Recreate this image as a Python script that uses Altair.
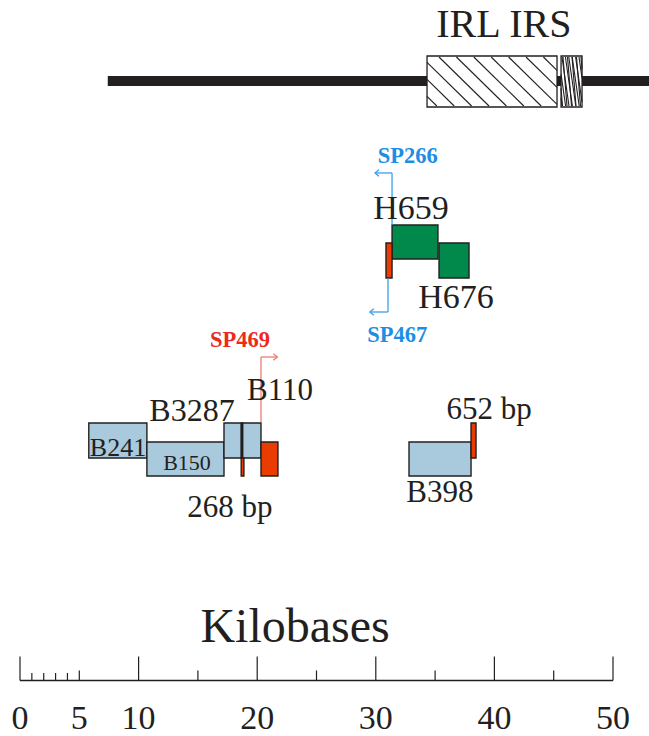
import altair as alt
import pandas as pd
import numpy as np

box_names = ["B241", "B150", "B3287", "B3287/B110 junction", "B110", "268 bp", "B110 red",
             "B398", "652 bp", "H659", "H676", "H red"]
box_start = [5.80, 10.70, 17.20, 18.66, 18.78, 18.65, 20.32, 32.80, 38.03, 31.37, 35.33, 30.86]
box_end   = [10.70, 17.20, 18.66, 18.78, 20.32, 18.88, 21.75, 38.03, 38.45, 35.24, 37.86, 31.37]
box_row   = ["A", "B", "A", "A", "A", "C", "B", "B", "A", "H1", "H2", "H2"]
box_kind  = ["blue", "blue", "blue", "dark", "blue", "red", "red", "blue", "red", "green", "green", "red"]

genome_start, genome_end = 7.4, 53.5
irl_start, irl_end = 34.32, 45.28
irs_start, irs_end = 45.62, 47.39

major_ticks = [0, 10, 20, 30, 40, 50]
mid_ticks = [5, 15, 25, 35, 45]
minor_ticks = [1, 2, 3, 4]
tick_labels = [0, 5, 10, 20, 30, 40, 50]

primer_names = ["SP469", "SP266", "SP467"]
primer_stem = [20.32, 31.37, 31.03]
primer_tip = [21.70, 29.93, 29.50]

label_text = ["IRL IRS", "Kilobases", "B3287", "B110", "B241", "B150", "268 bp",
              "H659", "H676", "652 bp", "B398", "SP266", "SP467", "SP469"]
label_x = [40.80, 23.19, 14.50, 21.92, 8.26, 14.08, 17.70,
           32.97, 36.76, 39.55, 35.41, 32.70, 31.80, 18.55]

# ---------------- layout (vertical positions in page pixels, styles) ----------------
W, H = 649, 736
X0_PX, PX_PER_KB = 20.0, 11.86
dom = [-X0_PX / PX_PER_KB, (W - X0_PX) / PX_PER_KB]

rows = {"A": (423, 458), "B": (442, 476), "C": (458, 476), "H1": (225, 259), "H2": (243, 278)}
fills = {"blue": "#a9c9dc", "red": "#e83c00", "green": "#00894b", "dark": "#231f20"}
INK = "#231f20"
FONT = "Liberation Serif"

genome_y = 81
ir_top, ir_bot = 56, 107
ruler_y = 680.5
tick_top = {"major": 656.5, "mid": 670.5, "minor": 673.0}
tick_label_base = 729

primer_rows = [(422, 357), (225, 173), (278, 312)]
primer_col = ["#f07a78", "#3aa0ea", "#3aa0ea"]
primer_text_col = {"SP469": "#ec2a1c", "SP266": "#1c8ee6", "SP467": "#1c8ee6"}

label_base = [37, 642, 421, 400, 456, 470, 517, 219, 308, 419, 502, 163, 342, 347]
label_size = [40, 48, 32, 31, 26, 22, 31, 34, 34, 31, 31, 22.5, 22.5, 22.5]

xs = alt.Scale(domain=dom, nice=False, zero=False)
ys = alt.Scale(domain=[0, H], reverse=True, nice=False, zero=False)

def X(f="x"):
    return alt.X(f"{f}:Q", scale=xs, axis=None)

def Y(f="y"):
    return alt.Y(f"{f}:Q", scale=ys, axis=None)

layers = []

# genome backbone
gdf = pd.DataFrame({"x": [genome_start], "x2": [genome_end], "y": [genome_y]})
layers.append(alt.Chart(gdf).mark_rule(color=INK, strokeWidth=10, strokeCap="butt").encode(
    x=X(), x2="x2:Q", y=Y()))

# IR boxes (white, outlined)
irdf = pd.DataFrame({"x": [irl_start, irs_start], "x2": [irl_end, irs_end],
                     "y": [ir_top, ir_top], "y2": [ir_bot, ir_bot]})
layers.append(alt.Chart(irdf).mark_rect(fill="white", stroke=INK, strokeWidth=1.3).encode(
    x=X(), x2="x2:Q", y=Y(), y2="y2:Q"))

# hatching, clipped to each box (pixel geometry converted to kb)
def hatch(xl_kb, xr_kb, top, bot, run_px, step_px, first_px):
    xl = X0_PX + xl_kb * PX_PER_KB
    xr = X0_PX + xr_kb * PX_PER_KB
    h = bot - top
    segs = []
    start = first_px
    while start - step_px > xl - abs(run_px) - step_px:
        start -= step_px
    s = start
    while s < xr + abs(run_px):
        ts = sorted([(xl - s) / run_px, (xr - s) / run_px])
        t0 = max(0.0, ts[0])
        t1 = min(1.0, ts[1])
        if t1 > t0:
            segs.append(((s + t0 * run_px - X0_PX) / PX_PER_KB, top + t0 * h,
                         (s + t1 * run_px - X0_PX) / PX_PER_KB, top + t1 * h))
        s += step_px
    return segs

hs = hatch(irl_start, irl_end, ir_top + 1, ir_bot - 1, 50, 17.4, 439)
hs += hatch(irs_start, irs_end, ir_top + 1, ir_bot - 1, 7, 3.4, 562)
hs += hatch(irs_start, irs_end, ir_top + 1, ir_bot - 1, 4, 4.5, 563)
hdf = pd.DataFrame(hs, columns=["x", "y", "x2", "y2"])
layers.append(alt.Chart(hdf).mark_rule(color=INK, strokeWidth=1.1).encode(
    x=X(), x2="x2:Q", y=Y(), y2="y2:Q"))

# feature boxes
bdf = pd.DataFrame({"name": box_names, "x": box_start, "x2": box_end,
                    "y": [rows[r][0] for r in box_row], "y2": [rows[r][1] for r in box_row],
                    "kind": box_kind})
layers.append(alt.Chart(bdf).mark_rect(stroke=INK, strokeWidth=1.4).encode(
    x=X(), x2="x2:Q", y=Y(), y2="y2:Q",
    fill=alt.Fill("kind:N", scale=alt.Scale(domain=list(fills), range=list(fills.values())),
                  legend=None)))

# primer arrows
stems, arms, heads = [], [], []
for n, sx, tx, (ya, yb), c in zip(primer_names, primer_stem, primer_tip, primer_rows, primer_col):
    stems.append({"x": sx, "y": ya, "y2": yb, "c": c})
    arms.append({"x": sx, "x2": tx, "y": yb, "c": c})
    heads.append({"x": tx, "y": yb, "c": c, "dir": "right" if tx > sx else "left"})
cscale = alt.Scale(domain=sorted(set(primer_col)), range=sorted(set(primer_col)))
layers.append(alt.Chart(pd.DataFrame(stems)).mark_rule(strokeWidth=1.3).encode(
    x=X(), y=Y(), y2="y2:Q", color=alt.Color("c:N", scale=cscale, legend=None)))
layers.append(alt.Chart(pd.DataFrame(arms)).mark_rule(strokeWidth=1.3).encode(
    x=X(), x2="x2:Q", y=Y(), color=alt.Color("c:N", scale=cscale, legend=None)))
hd = pd.DataFrame(heads)
for d, path in [("right", "M-1,-0.8L0,0L-1,0.8"), ("left", "M1,-0.8L0,0L1,0.8")]:
    layers.append(alt.Chart(hd[hd["dir"] == d]).mark_point(
        shape=path, filled=False, size=64, strokeWidth=1.3, opacity=1).encode(
        x=X(), y=Y(), color=alt.Color("c:N", scale=cscale, legend=None)))

# ruler
layers.append(alt.Chart(pd.DataFrame({"x": [0], "x2": [50], "y": [ruler_y]})).mark_rule(
    color=INK, strokeWidth=1.3).encode(x=X(), x2="x2:Q", y=Y()))
tdf = pd.DataFrame({"x": major_ticks + mid_ticks + minor_ticks,
                    "y": [tick_top["major"]] * len(major_ticks) + [tick_top["mid"]] * len(mid_ticks)
                    + [tick_top["minor"]] * len(minor_ticks)})
tdf["y2"] = ruler_y
layers.append(alt.Chart(tdf).mark_rule(color=INK, strokeWidth=1.2).encode(
    x=X(), y=Y(), y2="y2:Q"))
tl = pd.DataFrame({"x": tick_labels, "t": [str(v) for v in tick_labels], "y": tick_label_base})
layers.append(alt.Chart(tl).mark_text(font=FONT, fontSize=34, color=INK, baseline="alphabetic",
                                      align="center").encode(x=X(), y=Y(), text="t:N"))

# labels
for t, x, yb, sz in zip(label_text, label_x, label_base, label_size):
    bold = t.startswith("SP")
    col = primer_text_col.get(t, INK)
    ldf = pd.DataFrame({"x": [x], "y": [yb], "t": [t]})
    layers.append(alt.Chart(ldf).mark_text(font=FONT, fontSize=sz, color=col,
                                           fontWeight="bold" if bold else "normal",
                                           baseline="alphabetic", align="center").encode(
        x=X(), y=Y(), text="t:N"))

chart = alt.layer(*layers).properties(width=W, height=H, autosize="none", padding=0,
                                      background="white").configure_view(strokeWidth=0)

chart.save("out.html", embed_options={"renderer": "svg", "actions": False})
